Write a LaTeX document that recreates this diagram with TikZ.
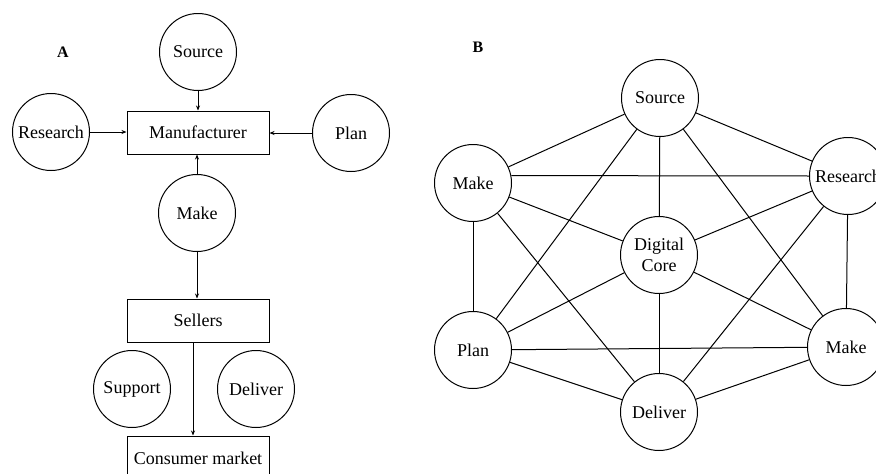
\documentclass[tikz,border=0pt]{standalone}
\usepackage{fontspec}
\setmainfont{Liberation Serif}
\usetikzlibrary{arrows.meta}
\begin{document}
\begin{tikzpicture}[x=1pt,y=-1pt,
  every node/.style={font=\fontsize{18}{21}\selectfont},
  circ/.style={draw,circle,line width=1pt,minimum size=77pt,inner sep=0pt,align=center},
  boxn/.style={draw,rectangle,line width=1pt,minimum width=142pt,minimum height=43pt,inner sep=0pt},
  arr/.style={line width=1pt,-{Stealth[length=5pt,width=4pt]}},
  edge/.style={line width=1pt},
  lbl/.style={font=\fontsize{16}{18}\selectfont\bfseries}]
\useasboundingbox (0,0) rectangle (876,474);
\clip (0,0) rectangle (876,474);
% Panel A
\node[lbl] (la) at (63,52) {A};
\node[circ] (src) at (198,52) {Source};
\node[circ] (res) at (51,132) {Research};
\node[boxn] (man) at (198,132.5) {Manufacturer};
\node[circ] (pln) at (351,133) {Plan};
\node[circ] (mak) at (197,213) {Make};
\node[boxn] (sel) at (198,320.5) {Sellers};
\node[circ] (sup) at (132,389) {Support};
\node[circ] (del) at (256,389) {Deliver};
\node[boxn,minimum height=44pt] (cm) at (198,458) {Consumer market};
\draw[arr] (src.south) -- (src.south |- man.north);
\draw[arr] (res.east) -- (res.east -| man.west);
\draw[arr] (pln.west) -- (pln.west -| man.east);
\draw[arr] (mak.north) -- (mak.north |- man.south);
\draw[arr] (mak.south) -- (mak.south |- sel.north);
\draw[arr] ([xshift=-5pt]sel.south) -- ([xshift=-5pt]cm.north);
% Panel B
\node[lbl] (lb) at (478,47) {B};
\node[circ] (bs) at (660,98) {Source};
\node[circ] (bm) at (473,183) {Make};
\node[circ] (br) at (848,176) {Research};
\node[circ] (bd) at (659,255) {Digital\\Core};
\node[circ] (bp) at (473,350) {Plan};
\node[circ] (bk) at (846,347) {Make};
\node[circ] (bv) at (659,412) {Deliver};
\draw[edge] (bs) -- (bm);
\draw[edge] (bs) -- (br);
\draw[edge] (bs) -- (bp);
\draw[edge] (bs) -- (bd);
\draw[edge] (bs) -- (bk);
\draw[edge] (bm.11) -- (br.west);
\draw[edge] (bm) -- (bd);
\draw[edge] (bm) -- (bp);
\draw[edge] (bm) -- (bv);
\draw[edge] (br) -- (bd);
\draw[edge] (br) -- (bk);
\draw[edge] (br) -- (bv);
\draw[edge] (bd) -- (bp);
\draw[edge] (bd) -- (bk);
\draw[edge] (bd) -- (bv);
\draw[edge] (bp) -- (bk);
\draw[edge] (bp) -- (bv);
\draw[edge] (bk) -- (bv);
\end{tikzpicture}
\end{document}
